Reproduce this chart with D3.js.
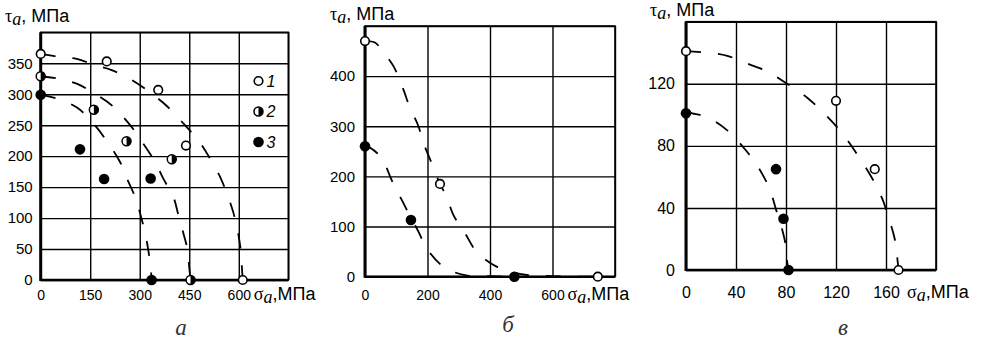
<!DOCTYPE html>
<html>
<head>
<meta charset="utf-8">
<script src="https://cdn.jsdelivr.net/npm/d3@7"></script>
<style>
  body { margin: 0; background: #fff; }
  svg text { font-family: "Liberation Sans", Arial, sans-serif; fill: #000; }
  .grid line { stroke: #000; stroke-width: 1.4; }
  .grid path { display: none; }
  .curve { fill: none; stroke: #000; stroke-width: 1.8; stroke-dasharray: 15, 17; }
</style>
</head>
<body>
<div id="chart"></div>
<script>
// ---- panel a ----
var aXTicks = [0, 150, 300, 450, 600],
    aYTicks = [0, 50, 100, 150, 200, 250, 300, 350];
var aOpen = [[0, 365], [200, 353], [356, 307], [440, 217], [612, 0]];
var aHalf = [[0, 329], [161, 275], [260, 224], [397, 195], [454, 0]];
var aFull = [[0, 299], [119, 211], [192, 163], [333, 164], [336, 0]];
var aCurve1 = [[0, 365], [13, 364], [58, 360], [109, 357], [164, 347], [215, 339], [276, 323],
               [336, 301], [382, 281], [432, 253], [481, 223], [513, 196], [543, 167],
               [568, 134], [584, 108], [596, 81], [606, 48], [609, 24], [612, 0]];
var aCurve2 = [[0, 329], [55, 325], [109, 317], [164, 301], [220, 280], [271, 250], [311, 220],
               [346, 191], [371, 164], [402, 134], [417, 105], [432, 76], [445, 48],
               [450, 20], [454, 0]];
var aCurve3 = [[0, 299], [55, 292], [111, 278], [164, 250], [202, 223], [240, 191], [261, 164],
               [286, 134], [301, 108], [316, 76], [326, 48], [333, 21], [336, 0]];

// ---- panel b ----
var bXTicks = [0, 200, 400, 600],
    bYTicks = [0, 100, 200, 300, 400];
var bOpen = [[0, 470], [240, 185], [745, 0]];
var bFull = [[0, 260], [147, 113], [478, 0]];
var bCurve1 = [[0, 470], [32, 467], [59, 447], [91, 420], [123, 373], [142, 340], [171, 300],
               [187, 267], [213, 227], [240, 185], [261, 160], [283, 123], [320, 87],
               [357, 50], [421, 20], [500, 5], [600, 1], [745, 0]];
var bCurve2 = [[0, 260], [11, 259], [53, 237], [85, 193], [112, 160], [139, 127], [171, 90],
               [197, 57], [251, 20], [320, 3], [400, 1], [478, 0], [530, 0]];

// ---- panel c ----
var cXTicks = [0, 40, 80, 120, 160],
    cYTicks = [0, 40, 80, 120];
var cOpen = [[0, 141], [120, 109], [151, 65], [170, 0]];
var cFull = [[0, 101], [72, 65], [78, 33], [82, 0]];
var cCurve1 = [[0, 141], [18, 140], [33, 138], [49, 133], [65, 128], [79, 121], [97, 111],
               [114, 98], [127, 86], [139, 72], [149, 59], [157, 46], [162, 34], [167, 20],
               [169, 8], [170, 0]];
var cCurve2 = [[0, 102], [5, 101], [18, 98], [33, 90], [48, 77], [58, 66], [67, 52], [72, 39],
               [77, 26], [80, 15], [81, 5], [82, 0]];

var captions = ["а", "б", "в"];

var svg = d3.select("#chart").append("svg")
    .attr("width", 989)
    .attr("height", 356);

var panels = [
  {left: 40.7, right: 288.3, top: 32.3, bottom: 280, xMax: 750, yMax: 400, xStep: 150, yStep: 50,
   xTicks: aXTicks, yTicks: aYTicks, xFont: 14, yFont: 15, xPad: 10, yPad: 8,
   curves: [aCurve1, aCurve2, aCurve3], open: aOpen, half: aHalf, full: aFull,
   titleX: 5, titleY: 22, sigmaDx: 15, caption: captions[0], capX: 181, capY: 335},
  {left: 365, right: 615, top: 26, bottom: 276.7, xMax: 800, yMax: 500, xStep: 200, yStep: 100,
   xTicks: bXTicks, yTicks: bYTicks, xFont: 14, yFont: 15, xPad: 13, yPad: 10,
   curves: [bCurve1, bCurve2], open: bOpen, half: [], full: bFull,
   titleX: 330, titleY: 20, sigmaDx: 15, caption: captions[1], capX: 508, capY: 332},
  {left: 686, right: 936, top: 21.7, bottom: 270, xMax: 200, yMax: 160, xStep: 40, yStep: 40,
   xTicks: cXTicks, yTicks: cYTicks, xFont: 16, yFont: 16, xPad: 17, yPad: 11,
   curves: [cCurve1, cCurve2], open: cOpen, half: [], full: cFull,
   titleX: 650, titleY: 16, sigmaDx: 21, caption: captions[2], capX: 843, capY: 335}
];

function symLabel(sel, sym, rest) {
  sel.append("tspan").style("font-family", "Liberation Serif, serif").text(sym);
  sel.append("tspan").style("font-family", "Liberation Serif, serif").style("font-style", "italic")
    .attr("dy", 3).text("a");
  sel.append("tspan").attr("dy", -3).text(rest);
}

panels.forEach(function(p) {
  var x = d3.scaleLinear().domain([0, p.xMax]).range([p.left, p.right]);
  var y = d3.scaleLinear().domain([0, p.yMax]).range([p.bottom, p.top]);
  var h = p.bottom - p.top, w = p.right - p.left;
  var g = svg.append("g");

  var xGrid = d3.range(0, p.xMax + 1, p.xStep),
      yGrid = d3.range(0, p.yMax + 1, p.yStep);

  var xa = g.append("g").attr("class", "grid")
      .attr("transform", "translate(0," + p.bottom + ")")
      .call(d3.axisBottom(x).tickValues(xGrid).tickSize(-h).tickPadding(p.xPad)
        .tickFormat(function(d) { return p.xTicks.indexOf(d) >= 0 ? d : ""; }));
  xa.selectAll("text").style("font-size", p.xFont + "px")
    .style("font-family", "Liberation Sans, Arial, sans-serif");
  var ya = g.append("g").attr("class", "grid")
      .attr("transform", "translate(" + p.left + ",0)")
      .call(d3.axisLeft(y).tickValues(yGrid).tickSize(-w).tickPadding(p.yPad)
        .tickFormat(function(d) { return p.yTicks.indexOf(d) >= 0 ? d : ""; }));
  ya.selectAll("text").style("font-size", p.yFont + "px")
    .style("font-family", "Liberation Sans, Arial, sans-serif");

  // frame and heavy axes
  g.append("rect").attr("x", p.left).attr("y", p.top).attr("width", w).attr("height", h)
    .attr("fill", "none").attr("stroke", "#000").attr("stroke-width", 1.6);
  g.append("line").attr("x1", p.left).attr("x2", p.left).attr("y1", p.top).attr("y2", p.bottom + 1)
    .attr("stroke", "#000").attr("stroke-width", 3);
  g.append("line").attr("x1", p.left).attr("x2", p.right).attr("y1", p.bottom).attr("y2", p.bottom)
    .attr("stroke", "#000").attr("stroke-width", 2.6);

  // dashed curves
  var line = d3.line()
      .x(function(d) { return x(d[0]); })
      .y(function(d) { return y(d[1]); })
      .curve(d3.curveCatmullRom.alpha(0.5));
  p.curves.forEach(function(c) {
    g.append("path").datum(c).attr("class", "curve").attr("d", line);
  });

  // markers
  g.selectAll(".open").data(p.open).enter().append("circle")
    .attr("cx", function(d) { return x(d[0]); })
    .attr("cy", function(d) { return y(d[1]); })
    .attr("r", 4.3).attr("fill", "#fff").attr("stroke", "#000").attr("stroke-width", 1.6);
  var hm = g.selectAll(".half").data(p.half).enter().append("g")
    .attr("transform", function(d) { return "translate(" + x(d[0]) + "," + y(d[1]) + ")"; });
  hm.append("circle").attr("r", 4.5).attr("fill", "#fff").attr("stroke", "#000").attr("stroke-width", 1.5);
  hm.append("path").attr("d", "M0,-4.5A4.5,4.5 0 0 1 0,4.5Z").attr("fill", "#000");
  g.selectAll(".full").data(p.full).enter().append("circle")
    .attr("cx", function(d) { return x(d[0]); })
    .attr("cy", function(d) { return y(d[1]); })
    .attr("r", 5.3).attr("fill", "#000");

  // titles
  var t = g.append("text").attr("x", p.titleX).attr("y", p.titleY).style("font-size", "18px");
  symLabel(t, "τ", ", МПа");
  var lastX = x(p.xTicks[p.xTicks.length - 1]);
  var s = g.append("text").attr("x", lastX + p.sigmaDx)
    .attr("y", p.bottom + p.xPad + p.xFont * 0.71).style("font-size", "18px");
  symLabel(s, "σ", ",МПа");

  g.append("text").attr("x", p.capX).attr("y", p.capY).attr("text-anchor", "middle")
    .style("font-family", "Liberation Serif, serif").style("font-style", "italic")
    .style("font-size", "23px").style("fill", "#333").text(p.caption);
});

// legend of panel a
var legend = [["open", "1"], ["half", "2"], ["full", "3"]];
var lg = svg.append("g");
legend.forEach(function(l, i) {
  var cy = 81 + i * 30.5, cx = 258.5;
  if (l[0] === "open") {
    lg.append("circle").attr("cx", cx).attr("cy", cy).attr("r", 4.3)
      .attr("fill", "#fff").attr("stroke", "#000").attr("stroke-width", 1.6);
  } else if (l[0] === "half") {
    lg.append("circle").attr("cx", cx).attr("cy", cy).attr("r", 4.5)
      .attr("fill", "#fff").attr("stroke", "#000").attr("stroke-width", 1.5);
    lg.append("path").attr("transform", "translate(" + cx + "," + cy + ")")
      .attr("d", "M0,-4.5A4.5,4.5 0 0 1 0,4.5Z").attr("fill", "#000");
  } else {
    lg.append("circle").attr("cx", cx).attr("cy", cy).attr("r", 5.3).attr("fill", "#000");
  }
  lg.append("text").attr("x", cx + 8).attr("y", cy + 5.5)
    .style("font-size", "16px").style("font-style", "italic").text(l[1]);
});
</script>
</body>
</html>
